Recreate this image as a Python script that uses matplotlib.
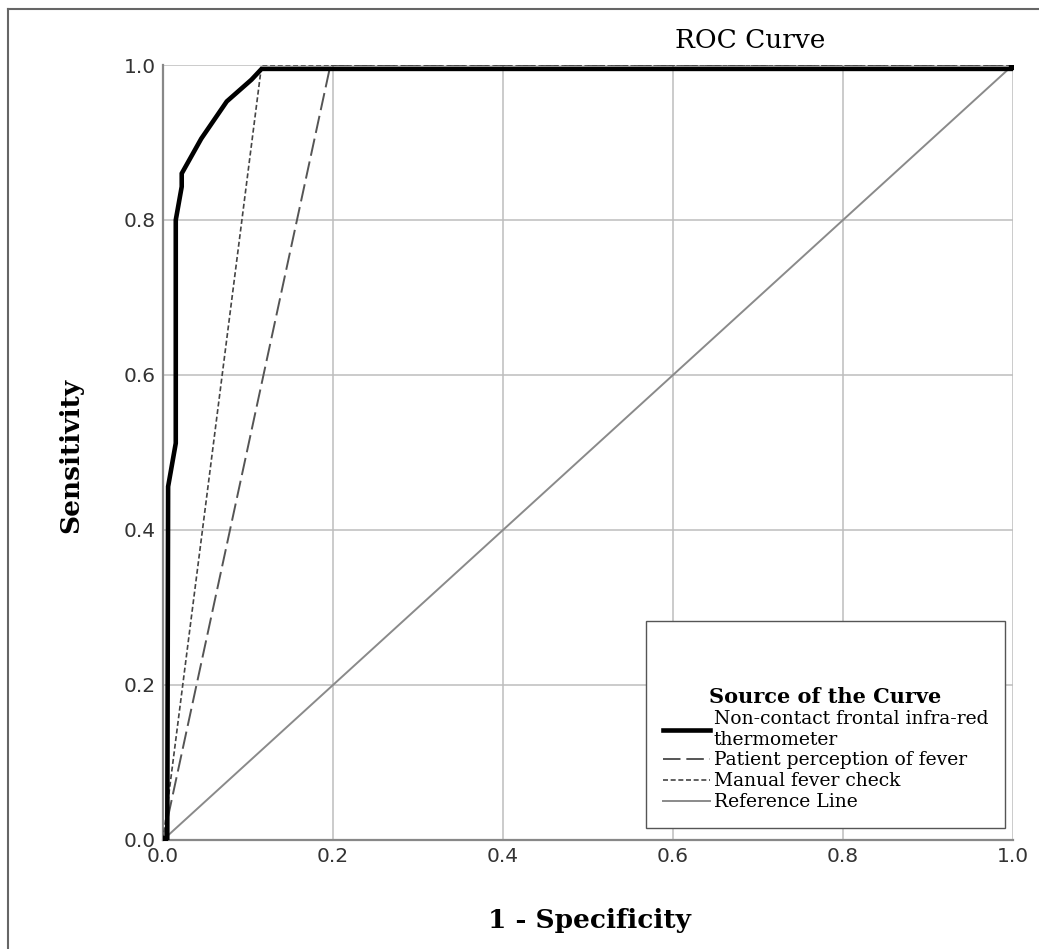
import matplotlib
matplotlib.use("Agg")
import matplotlib.pyplot as plt
from matplotlib.lines import Line2D

# Data
thermo_fpr = [0.0, 0.005, 0.006, 0.015, 0.015, 0.022, 0.022, 0.045, 0.075, 0.104, 0.116, 0.5, 0.998, 1.0]
thermo_tpr = [0.0, 0.0, 0.456, 0.512, 0.80, 0.843, 0.86, 0.905, 0.953, 0.981, 0.995, 0.995, 0.995, 1.0]
patient_fpr = [0.0, 0.197, 1.0]
patient_tpr = [0.0, 1.0, 1.0]
manual_fpr = [0.0, 0.116, 1.0]
manual_tpr = [0.0, 1.0, 1.0]
ref_x = [0.0, 1.0]
ref_y = [0.0, 1.0]
ticks = [0.0, 0.2, 0.4, 0.6, 0.8, 1.0]
tick_labels = ["0.0", "0.2", "0.4", "0.6", "0.8", "1.0"]

serif = ["DejaVu Serif"]

fig = plt.figure(figsize=(10.39, 9.49), dpi=100)
ax = fig.add_axes([0.1569, 0.1149, 0.975 - 0.1569, 0.9315 - 0.1149])

ax.plot(ref_x, ref_y, color="#8a8a8a", lw=1.4, label="Reference Line", zorder=2)
ax.plot(patient_fpr, patient_tpr, color="#555555", lw=1.4, dashes=(9, 3), label="Patient perception of fever", zorder=3)
ax.plot(manual_fpr, manual_tpr, color="#444444", lw=1.2, dashes=(3, 1.6), label="Manual fever check", zorder=3)
ax.plot(thermo_fpr, thermo_tpr, color="black", lw=3.3, solid_joinstyle="miter",
        label="Non-contact frontal infra-red\nthermometer", zorder=4)
ax.plot([thermo_fpr[0], thermo_fpr[-1]], [thermo_tpr[0], thermo_tpr[-1]], ls="none",
        marker="s", ms=6, color="black", zorder=5)

ax.set_xlim(0, 1)
ax.set_ylim(0, 1)
ax.set_xticks(ticks)
ax.set_yticks(ticks)
ax.set_xticklabels(tick_labels)
ax.set_yticklabels(tick_labels)
ax.tick_params(length=0, labelsize=14.5, labelcolor="#333333", pad=5)
ax.grid(True, color="#bdbdbd", lw=1.1)
ax.set_axisbelow(True)
for s in ["top", "right"]:
    ax.spines[s].set_visible(False)
for s in ["left", "bottom"]:
    ax.spines[s].set_color("#888888")
    ax.spines[s].set_linewidth(1.6)

fig.text(0.068, 0.5205, "Sensitivity", rotation=90, ha="center", va="center",
         fontsize=19, fontweight="bold", family=serif)
fig.text(0.567, 0.030, "1 - Specificity", ha="center", va="center",
         fontsize=19, fontweight="bold", family=serif)
fig.text(0.722, 0.957, "ROC Curve", ha="center", va="center",
         fontsize=19, family=serif, color="black")

handles = [
    Line2D([], [], color="black", lw=3.3),
    Line2D([], [], color="#555555", lw=1.4, dashes=(9, 3)),
    Line2D([], [], color="#444444", lw=1.2, dashes=(3, 1.6)),
    Line2D([], [], color="#8a8a8a", lw=1.4),
]
labels = ["Non-contact frontal infra-red\nthermometer", "Patient perception of fever",
          "Manual fever check", "Reference Line"]
leg = ax.legend(handles, labels, title="\nSource of the Curve",
                loc="lower right", bbox_to_anchor=(0.9906, 0.0155),
                prop={"family": serif, "size": 13.5},
                title_fontproperties={"family": serif, "size": 15, "weight": "bold"},
                frameon=True, fancybox=False, edgecolor="#555555", framealpha=1,
                handlelength=2.5, handletextpad=0.2, labelspacing=0.15,
                borderpad=0.9, borderaxespad=0)
leg.get_title().set_linespacing(2.85)
leg.get_frame().set_linewidth(1.0)
leg.set_zorder(10)

# figure border (left and top)
fig.add_artist(Line2D([0.008, 0.008], [0, 0.99], transform=fig.transFigure, color="#666666", lw=1.5))
fig.add_artist(Line2D([0.008, 1.0], [0.99, 0.99], transform=fig.transFigure, color="#666666", lw=1.5))

fig.savefig("out.png", dpi=100)
